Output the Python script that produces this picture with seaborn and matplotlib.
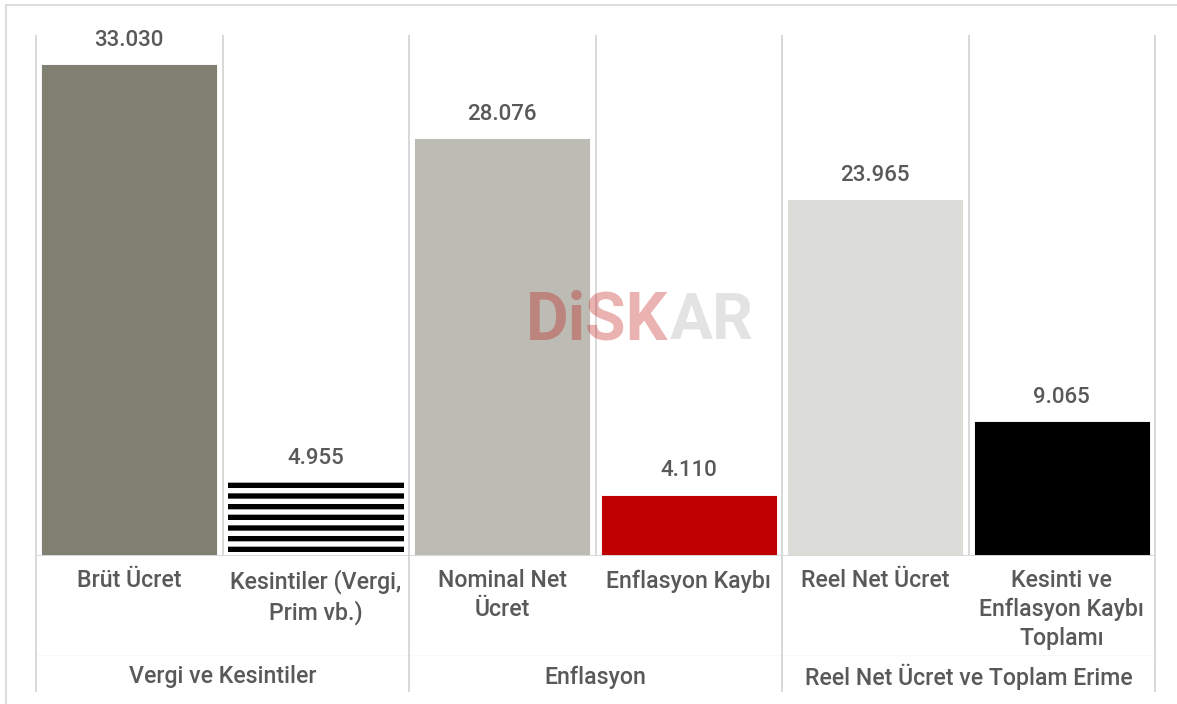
import numpy as np
import matplotlib.pyplot as plt
import seaborn as sns
import pandas as pd
from matplotlib.patches import Rectangle

# data
kategoriler = ["Brüt Ücret", "Kesintiler (Vergi,\nPrim vb.)", "Nominal Net\nÜcret",
               "Enflasyon Kaybı", "Reel Net Ücret", "Kesinti ve\nEnflasyon Kaybı\nToplamı"]
degerler = [33030, 4955, 28076, 4110, 23965, 9065]
gruplar = ["Vergi ve Kesintiler", "Enflasyon", "Reel Net Ücret ve Toplam Erime"]
renkler = ["#7f7f72", "#ffffff", "#bcbcb4", "#c00000", "#dcdcd8", "#000000"]

DPI = 64
W, H = 1177, 704
grid_renk = "#d9d9d9"
yazi_renk = "#595959"

sns.set_theme(style="white")
plt.rcParams['font.family'] = ['Roboto', 'DejaVu Sans']
plt.rcParams['hatch.linewidth'] = 6

df = pd.DataFrame({"kat": kategoriler, "deger": degerler})

fig = plt.figure(figsize=(W / DPI, H / DPI), dpi=DPI, facecolor="white")
ax = fig.add_axes([36 / W, 1 - 556 / H, 1119 / W, 521 / H])

sns.barplot(data=df, x="kat", y="deger", hue="kat", palette=renkler,
            width=0.945, legend=False, ax=ax, saturation=1, zorder=3)

# cizgili bar
p = ax.patches[1]
p.set_hatch("-")
p.set_edgecolor("black")
p.set_linewidth(0)

ax.set_xlim(-0.5, 5.5)
ax.set_ylim(0, 35000)
ax.set_yticks([])
ax.set_ylabel("")
ax.set_xlabel("")
for s in ax.spines.values():
    s.set_visible(False)

# deger etiketleri
etiketler = [f"{v:,}".replace(",", ".") for v in degerler]
for cont in ax.containers:
    i = int(round(cont.patches[0].get_x() + cont.patches[0].get_width() / 2))
    ax.bar_label(cont, labels=[etiketler[i]], padding=15, fontsize=25,
                 color=yazi_renk, fontweight="medium")

# eksen ve cizgiler
ax.axhline(0, color=grid_renk, lw=2.2, zorder=4)
trans = ax.get_xaxis_transform()
ax.vlines([0.5, 2.5, 4.5], 0, 1, transform=trans, color=grid_renk, lw=2.2, zorder=1)
ax.vlines([-0.5, 1.5, 3.5, 5.5], -0.261, 1, transform=trans, color=grid_renk,
          lw=2.2, zorder=1, clip_on=False)
ax.plot([-0.5, 5.5], [-0.19, -0.19], transform=trans, color="#f8f8f8", lw=1.2,
        clip_on=False, zorder=0)

ax.set_xticks(range(len(kategoriler)))
ax.set_xticklabels(kategoriler, fontsize=26, color=yazi_renk, fontweight="medium",
                   linespacing=1.32)
ax.tick_params(axis="x", length=0, pad=15)

for j, g in enumerate(gruplar):
    ax.text(2 * j + 0.5, -0.232, g, transform=trans, ha="center", va="center",
            fontsize=26, color=yazi_renk, fontweight="medium")

# filigran
fig.text(668 / W, 1 - 321 / H, "DiSK", ha="right", va="center", fontsize=74,
         fontweight="bold", color="#c00000", alpha=0.3, zorder=10)
fig.text(670 / W, 1 - 321 / H, "AR", ha="left", va="center", fontsize=72,
         fontweight="bold", color="#c8c8c8", alpha=0.5, zorder=10)

# cerceve
fig.patches.append(Rectangle((6 / W, -0.1), 1.2, 1 - 5 / H + 0.1, transform=fig.transFigure,
                             fill=False, edgecolor=grid_renk, lw=2, zorder=0))

fig.savefig("out.png", dpi=DPI, facecolor="white")
